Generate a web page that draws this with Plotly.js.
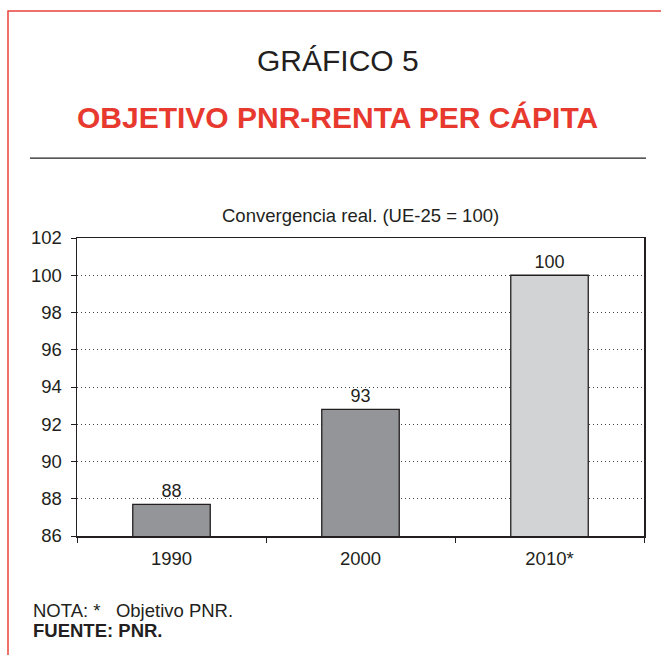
<!DOCTYPE html>
<html>
<head>
<meta charset="utf-8">
<script src="https://cdn.plot.ly/plotly-3.0.1.min.js"></script>
<style>html,body{margin:0;padding:0;background:#fff;}#chart{width:661px;height:655px;}</style>
</head>
<body>
<div id="chart"></div>
<script>
const categories = ["1990", "2000", "2010*"];
const values = [87.7, 92.8, 100];
const valueLabels = ["88", "93", "100"];
const barColors = ["#939598", "#939598", "#d1d3d4"];
const yTicks = [86, 88, 90, 92, 94, 96, 98, 100, 102];

const font = "Liberation Sans, Arial, Helvetica, sans-serif";

const trace = {
  type: "bar",
  x: categories,
  y: values,
  text: valueLabels,
  textposition: "outside",
  cliponaxis: false,
  textfont: {family: font, size: 18, color: "#231f20"},
  marker: {color: barColors, line: {color: "#231f20", width: 1.3}},
  width: 0.41,
  hoverinfo: "none"
};

const layout = {
  width: 661, height: 655,
  margin: {l: 77, r: 17, t: 238, b: 119},
  paper_bgcolor: "#fff", plot_bgcolor: "#fff",
  showlegend: false,
  font: {family: font, color: "#231f20", size: 18},
  xaxis: {
    type: "category",
    showline: true, linecolor: "#231f20", linewidth: 1.5, mirror: true,
    ticks: "outside", tickson: "boundaries", ticklen: 5, tickcolor: "#231f20",
    ticklabelstandoff: 5,
    tickfont: {family: font, size: 18.5, color: "#231f20"},
    showgrid: false, zeroline: false, fixedrange: true
  },
  yaxis: {
    range: [86, 102],
    tickvals: yTicks,
    ticktext: yTicks.map(String),
    showline: true, linecolor: "#231f20", linewidth: 1.5, mirror: true,
    ticks: "outside", ticklen: 5, tickcolor: "#231f20",
    ticklabelstandoff: 5,
    tickfont: {family: font, size: 18.5, color: "#231f20"},
    showgrid: true, gridcolor: "#444", griddash: "1px,3px", gridwidth: 1,
    zeroline: false, fixedrange: true
  },
  shapes: [
    {type: "rect", xref: "paper", yref: "paper", x0: -0.1217, x1: 2, y0: -2, y1: 1.762,
     line: {color: "#e8423a", width: 1.5}, fillcolor: "rgba(0,0,0,0)", layer: "below"},
    {type: "line", xref: "paper", yref: "paper", x0: -0.083, x1: 1.0035, y0: 1.268, y1: 1.268,
     line: {color: "#231f20", width: 1.3}}
  ],
  annotations: [
    {text: "GRÁFICO 5", xref: "paper", yref: "paper", x: 0.46, y: 1.597, showarrow: false,
     xanchor: "center", yanchor: "middle", font: {family: font, size: 30, color: "#231f20"}},
    {text: "<b>OBJETIVO PNR-RENTA PER CÁPITA</b>", xref: "paper", yref: "paper", x: 0.46, y: 1.403, showarrow: false,
     xanchor: "center", yanchor: "middle", font: {family: font, size: 30, color: "#e8392f"}},
    {text: "Convergencia real. (UE-25 = 100)", xref: "paper", yref: "paper", x: 0.5, y: 1.074, showarrow: false,
     xanchor: "center", yanchor: "middle", font: {family: font, size: 18.5, color: "#231f20"}},
    {text: "NOTA: *&nbsp;&nbsp; Objetivo PNR.", xref: "paper", yref: "paper", x: -0.082, y: -0.251, showarrow: false,
     xanchor: "left", yanchor: "middle", font: {family: font, size: 18.5, color: "#231f20"}},
    {text: "<b>FUENTE: PNR.</b>", xref: "paper", yref: "paper", x: -0.082, y: -0.316, showarrow: false,
     xanchor: "left", yanchor: "middle", font: {family: font, size: 18.5, color: "#231f20"}}
  ]
};

Plotly.newPlot("chart", [trace], layout, {displayModeBar: false, staticPlot: true});
</script>
</body>
</html>
